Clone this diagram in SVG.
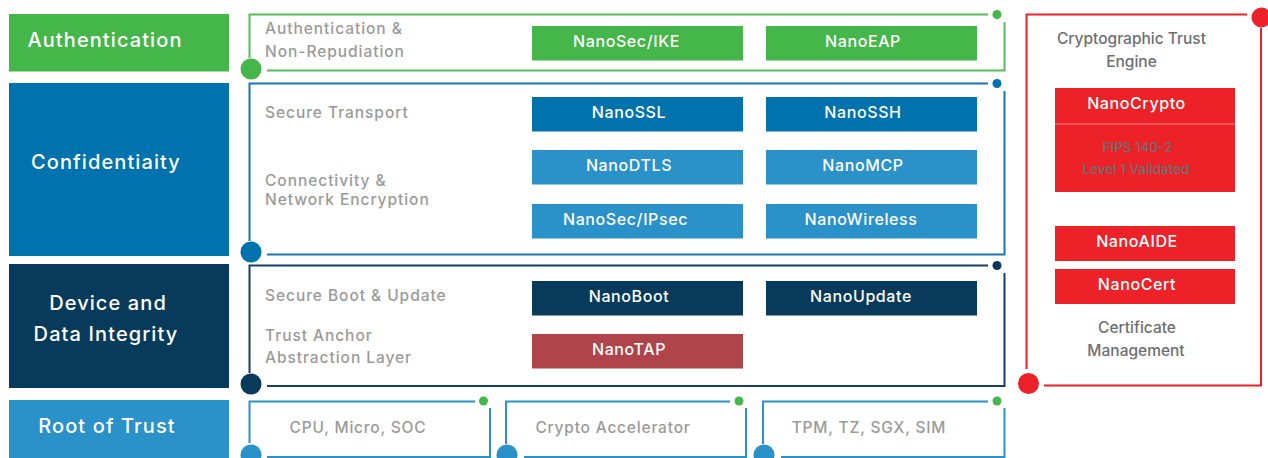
<svg xmlns="http://www.w3.org/2000/svg" width="1268" height="458" viewBox="0 0 1268 458">
<style>
text{font-family:Inter,"Open Sans","Liberation Sans",sans-serif}
.lbl{fill:#fff;font-size:20px;font-weight:500;text-anchor:middle;letter-spacing:1.1px}
.prod{fill:#fff;font-size:16px;font-weight:500;text-anchor:middle;letter-spacing:0.6px}
.sub{fill:#9a9a9a;font-size:15.5px;font-weight:500;letter-spacing:0.95px}
.rt{fill:#9a9a9a;font-size:15.5px;font-weight:500;text-anchor:middle;letter-spacing:0.8px}
.rl{fill:#6d6e71;font-size:15.5px;font-weight:500;text-anchor:middle;letter-spacing:0px}
.fips{fill:#6f6f6f;font-size:13.5px;font-weight:500;text-anchor:middle}
.ln{fill:none;stroke-width:2}
.cg{stroke:#55bb59}.fg{fill:#45b649}
.cb{stroke:#1677b2}.fb{fill:#0072ad}
.cn{stroke:#173f63}.fn{fill:#083a5b}
.cl{stroke:#2a91c9}.fl{fill:#2a91c9}
.cr{stroke:#ed2128}.fr{fill:#ed2128}
.ft{fill:#b0444b}
</style>

<g id="connectors">
  <g id="frame-auth">
    <path class="ln cg" d="M988 14.5 H249.5 V58"/>
    <path class="ln cg" d="M267 70.5 H1004.5 V22"/>
    <circle class="fg" cx="997" cy="14.5" r="4.5"/>
    <circle class="fg" cx="251" cy="69" r="10.5"/>
  </g>
  <g id="frame-conf">
    <path class="ln cb" d="M988 83.5 H249.5 V241"/>
    <path class="ln cb" d="M267 254.5 H1004.5 V91"/>
    <circle class="fb" cx="997" cy="83.5" r="4.5"/>
    <circle class="fb" cx="251" cy="252" r="10.5"/>
  </g>
  <g id="frame-integrity">
    <path class="ln cn" d="M988 265.5 H249.5 V373"/>
    <path class="ln cn" d="M267 386 H1004.5 V273"/>
    <circle class="fn" cx="997" cy="265.5" r="4.5"/>
    <circle class="fn" cx="251" cy="384" r="10.5"/>
  </g>
  <g id="frame-rot-1">
    <path class="ln cl" d="M475 401.5 H249.5 V443"/>
    <path class="ln cl" d="M267 457 H490 V408"/>
    <circle class="fg" cx="483.5" cy="401" r="4.5"/>
    <circle class="fl" cx="251" cy="455" r="10.5"/>
  </g>
  <g id="frame-rot-2">
    <path class="ln cl" d="M730 401.5 H506 V444"/>
    <path class="ln cl" d="M524 457 H746 V408"/>
    <circle class="fg" cx="739" cy="401" r="4.5"/>
    <circle class="fl" cx="507" cy="455" r="10.5"/>
  </g>
  <g id="frame-rot-3">
    <path class="ln cl" d="M988 401.5 H763 V444"/>
    <path class="ln cl" d="M781 457 H1004.5 V408"/>
    <circle class="fg" cx="997" cy="401" r="4.5"/>
    <circle class="fl" cx="764" cy="455" r="10.5"/>
  </g>
  <g id="frame-engine">
    <path class="ln cr" d="M1247 14.5 H1026.5 V369"/>
    <path class="ln cr" d="M1044 385.5 H1261 V28"/>
    <circle class="fr" cx="1261.5" cy="17.5" r="10"/>
    <circle class="fr" cx="1028.5" cy="383.5" r="10.5"/>
  </g>
</g>

<g id="authentication">
  <rect class="fg" x="9" y="14" width="220" height="57.5"/>
  <text class="lbl" x="105" y="47">Authentication</text>
</g>
<g id="confidentiality">
  <rect class="fb" x="9" y="83" width="220" height="173"/>
  <text class="lbl" x="106" y="169">Confidentiaity</text>
</g>
<g id="integrity">
  <rect class="fn" x="9" y="264" width="220" height="124"/>
  <text class="lbl" x="108" y="310">Device and</text>
  <text class="lbl" x="106" y="341">Data Integrity</text>
</g>
<g id="root-of-trust">
  <rect class="fl" x="9" y="400" width="220" height="58"/>
  <text class="lbl" x="107" y="433">Root of Trust</text>
</g>

<g id="sub-labels">
  <text class="sub" x="265" y="34">Authentication &amp;</text>
  <text class="sub" x="265" y="56.5">Non-Repudiation</text>
  <text class="sub" x="265" y="118">Secure Transport</text>
  <text class="sub" x="265" y="185.5">Connectivity &amp;</text>
  <text class="sub" x="265" y="205">Network Encryption</text>
  <text class="sub" x="265" y="301">Secure Boot &amp; Update</text>
  <text class="sub" x="265" y="340.5">Trust Anchor</text>
  <text class="sub" x="265" y="362.5">Abstraction Layer</text>
</g>

<g id="nanosec-ike"><rect class="fg" x="532" y="26" width="211" height="34.5"/><text class="prod" x="626.5" y="47">NanoSec/IKE</text></g>
<g id="nanoeap"><rect class="fg" x="766" y="26" width="211" height="34.5"/><text class="prod" x="863" y="47">NanoEAP</text></g>
<g id="nanossl"><rect class="fb" x="532" y="97" width="211" height="34.5"/><text class="prod" x="629" y="118">NanoSSL</text></g>
<g id="nanossh"><rect class="fb" x="766" y="97" width="211" height="34.5"/><text class="prod" x="863" y="118">NanoSSH</text></g>
<g id="nanodtls"><rect class="fl" x="532" y="150" width="211" height="34.5"/><text class="prod" x="629" y="171">NanoDTLS</text></g>
<g id="nanomcp"><rect class="fl" x="766" y="150" width="211" height="34.5"/><text class="prod" x="863" y="171">NanoMCP</text></g>
<g id="nanosec-ipsec"><rect class="fl" x="532" y="204" width="211" height="34.5"/><text class="prod" x="625.5" y="225">NanoSec/IPsec</text></g>
<g id="nanowireless"><rect class="fl" x="766" y="204" width="211" height="34.5"/><text class="prod" x="861" y="225">NanoWireless</text></g>
<g id="nanoboot"><rect class="fn" x="532" y="281" width="211" height="34.5"/><text class="prod" x="629" y="302">NanoBoot</text></g>
<g id="nanoupdate"><rect class="fn" x="766" y="281" width="211" height="34.5"/><text class="prod" x="861" y="302">NanoUpdate</text></g>
<g id="nanotap"><rect class="ft" x="532" y="334" width="211" height="34.5"/><text class="prod" x="629" y="355">NanoTAP</text></g>

<g id="rot-cpu"><text class="rt" x="358" y="433">CPU, Micro, SOC</text></g>
<g id="rot-accel"><text class="rt" x="613" y="433">Crypto Accelerator</text></g>
<g id="rot-tpm"><text class="rt" x="869" y="433">TPM, TZ, SGX, SIM</text></g>

<g id="engine-title">
  <text class="rl" x="1131.5" y="43.5">Cryptographic Trust</text>
  <text class="rl" x="1131.5" y="67">Engine</text>
</g>
<g id="nanocrypto">
  <rect class="fr" x="1055" y="88" width="180" height="104"/>
  <line x1="1055" y1="124" x2="1235" y2="124" stroke="#f5878b" stroke-width="1"/>
  <text class="prod" x="1136.5" y="109">NanoCrypto</text>
  <text class="fips" x="1137.5" y="152">FIPS 140-2</text>
  <text class="fips" x="1136" y="173.5">Level 1 Validated</text>
</g>
<g id="nanoaide"><rect class="fr" x="1055" y="226" width="180" height="35"/><text class="prod" x="1137" y="247">NanoAIDE</text></g>
<g id="nanocert"><rect class="fr" x="1055" y="269" width="180" height="35"/><text class="prod" x="1137" y="290">NanoCert</text></g>
<g id="cert-title">
  <text class="rl" x="1137" y="333">Certificate</text>
  <text class="rl" x="1136" y="356">Management</text>
</g>
</svg>
